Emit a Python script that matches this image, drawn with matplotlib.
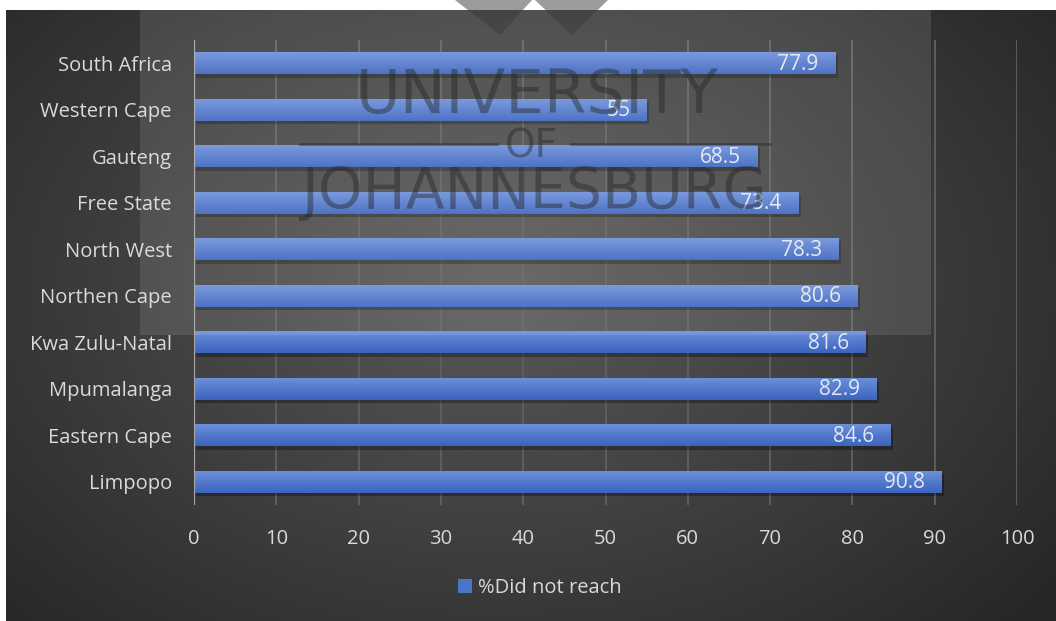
import matplotlib.pyplot as plt
import matplotlib.patches as mpatches
import numpy as np

provinces = ['South Africa', 'Western Cape', 'Gauteng', 'Free State', 'North West',
             'Northen Cape', 'Kwa Zulu-Natal', 'Mpumalanga', 'Eastern Cape', 'Limpopo']
did_not_reach = [77.9, 55, 68.5, 73.4, 78.3, 80.6, 81.6, 82.9, 84.6, 90.8]
value_labels = ['77.9', '55', '68.5', '73.4', '78.3', '80.6', '81.6', '82.9', '84.6', '90.8']
x_ticks = [0, 10, 20, 30, 40, 50, 60, 70, 80, 90, 100]
series_name = '%Did not reach'

W, H = 1056, 621
plt.rcParams['font.family'] = ['Open Sans', 'DejaVu Sans']
fig = plt.figure(figsize=(W / 100, H / 100), dpi=100, facecolor='white')

# dark radial background of the chart area
bg = fig.add_axes([6 / W, 0, 1 - 6 / W, 1 - 10 / H])
bg.set_axis_off()
yy, xx = np.mgrid[0:1:300j, 0:1:500j]
r = np.sqrt(((xx - 0.47) / 0.75) ** 2 + ((yy - 0.45) / 0.9) ** 2)
shade = np.clip(0.35 - 0.22 * r, 0.15, 0.35)
bg.imshow(np.dstack([shade] * 3), extent=[0, 1, 0, 1], aspect='auto', origin='upper')
bg.set_xlim(0, 1)
bg.set_ylim(0, 1)


def fx(px):
    return px / W


def fy(py):
    return 1 - py / H


# lighter watermark panel + logo
fig.patches.append(mpatches.Rectangle((fx(140), fy(335)), fx(931) - fx(140), fy(10) - fy(335),
                                      transform=fig.transFigure, facecolor='white', alpha=0.1,
                                      edgecolor='none', zorder=0.5))
for pts in ([(455, 0), (532, 0), (500, 35)], [(535, 0), (608, 0), (572, 35)]):
    fig.patches.append(mpatches.Polygon([(fx(a), fy(b)) for a, b in pts], closed=True,
                                        transform=fig.transFigure, facecolor='#3a3a3a',
                                        alpha=0.5, edgecolor='none', zorder=3))

ax = fig.add_axes([194 / W, 1 - 505 / H, (1017 - 194) / W, (505 - 40) / H])
ax.set_facecolor('none')
ypos = np.arange(len(provinces))
bar_h = 0.48

ax.set_xlim(0, 100)
ax.set_ylim(len(provinces) - 0.5, -0.5)

grad = np.linspace(0, 1, 50)
top = np.array([0.43, 0.57, 0.86])
bot = np.array([0.23, 0.39, 0.75])
grad_img = (top + (bot - top) * grad[:, None]).reshape(50, 1, 3)

for y, v, lab in zip(ypos, did_not_reach, value_labels):
    shadow = mpatches.Rectangle((0.3, y - bar_h / 2 + 0.07), v, bar_h, facecolor='black',
                                alpha=0.3, edgecolor='none', zorder=2)
    ax.add_patch(shadow)
    bar = ax.barh(y, v, height=bar_h, color='#4a76c9', zorder=3)[0]
    im = ax.imshow(grad_img, extent=[0, v, y + bar_h / 2, y - bar_h / 2],
                   aspect='auto', zorder=3.1)
    im.set_clip_path(bar)
    ax.text(v - 2.0, y + 0.02, lab, ha='right', va='center', color='#e4e8f0',
            fontsize=15, zorder=5)

ax.set_xlim(0, 100)
ax.set_ylim(len(provinces) - 0.5, -0.5)
ax.set_xticks(x_ticks)
ax.set_yticks(ypos)
ax.set_yticklabels(provinces)
ax.tick_params(axis='both', length=0, colors='#d9d9d9', labelsize=14.5)
ax.tick_params(axis='x', pad=17)
ax.tick_params(axis='y', pad=16)
ax.grid(axis='x', color='#5e5e5e', linewidth=1.4, zorder=1)
ax.set_axisbelow(True)
for s in ax.spines.values():
    s.set_visible(False)
ax.axvline(0, color='#a6a6a6', linewidth=1.6, zorder=4)

# watermark text
wm = dict(transform=fig.transFigure, ha='center', va='center', color='#262626', alpha=0.45,
          zorder=6, family='DejaVu Sans')
fig.text(fx(537), fy(97), 'UNIVERSITY', fontsize=44, **wm)
fig.text(fx(531), fy(147), 'OF', fontsize=28, **wm)
fig.text(fx(535), fy(193), 'JOHANNESBURG', fontsize=41, **wm)
fig.lines.append(plt.Line2D([fx(300), fx(497)], [fy(144), fy(144)], transform=fig.transFigure,
                            color='#262626', alpha=0.45, linewidth=2, zorder=6))
fig.lines.append(plt.Line2D([fx(571), fx(770)], [fy(144), fy(144)], transform=fig.transFigure,
                            color='#262626', alpha=0.45, linewidth=2, zorder=6))

handle = mpatches.Patch(facecolor='#4a76c9', edgecolor='none', label=series_name)
fig.legend(handles=[handle], loc='center', bbox_to_anchor=(540 / W, 1 - 588 / H), frameon=False,
           fontsize=14.5, labelcolor='#d9d9d9', handlelength=0.7, handleheight=0.7,
           handletextpad=0.3)

fig.savefig('out.png', dpi=100, facecolor='white')
